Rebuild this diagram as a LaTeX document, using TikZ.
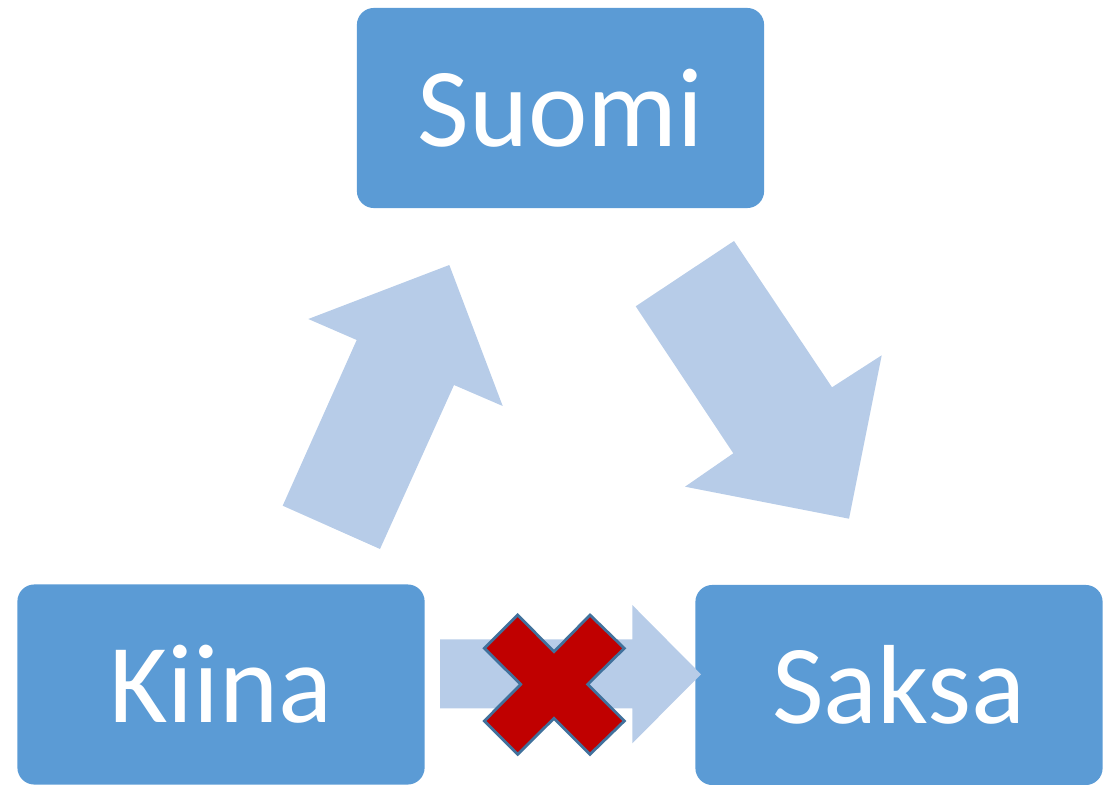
\documentclass[tikz,border=0pt]{standalone}
\usepackage{fontspec}
\setmainfont{Carlito}
\definecolor{cajaAzul}{HTML}{5B9BD5}
\definecolor{flechaAzul}{HTML}{B7CCE8}
\definecolor{cruzRoja}{HTML}{C00000}
\definecolor{cruzBorde}{HTML}{41719C}
\begin{document}
\begin{tikzpicture}[
    x=0.01cm, y=-0.01cm,
    every node/.style={font=\fontsize{32}{38}\selectfont},
    caja/.style={fill=cajaAzul, text=white, rounded corners=0.17cm, minimum width=4.07cm, minimum height=2cm, inner sep=0pt},
    flecha/.style={fill=flechaAzul},
    cruz/.style={fill=cruzRoja, draw=cruzBorde, line width=0.8pt, line join=miter}
]
\useasboundingbox (0,0) rectangle (1109,785);
% Cajas
\node[caja] (suomi) at (560.5,108) {Suomi};
\node[caja] (kiina) at (221,684.5) {Kiina};
\node[caja] (saksa) at (899,685) {Saksa};
% Flechas
\fill[flecha] (282.7,505.7) -- (380,549) -- (454,385) -- (502.7,406) -- (449.3,265)
    -- (308.3,319) -- (356.7,340) -- cycle;
\fill[flecha] (635.7,306.3) -- (734,241) -- (832,387.3) -- (881.7,355.3) -- (849,518.7)
    -- (685,486.7) -- (733.3,453.3) -- cycle;
\fill[flecha] (440,639.3) -- (632.3,639.3) -- (632.3,605) -- (701,674.3) -- (632.3,743.3)
    -- (632.3,708.3) -- (440,708.3) -- cycle;
% Cruz
\draw[cruz] (517.7,615) -- (554,651.7) -- (590,615) -- (624.3,648.3) -- (587.7,684.3)
    -- (624.3,721) -- (590,754.3) -- (554,718.3) -- (517.7,754.3) -- (484.3,721)
    -- (520.7,684.3) -- (484.3,648.3) -- cycle;
\end{tikzpicture}
\end{document}
